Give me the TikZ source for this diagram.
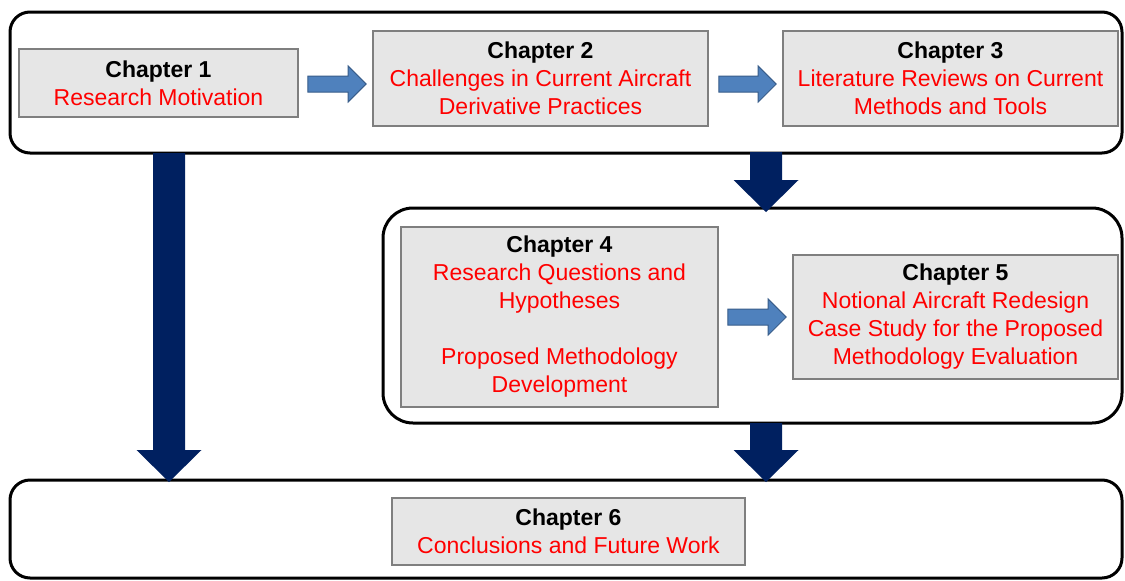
\documentclass[tikz,border=0pt]{standalone}
\usepackage{fontspec}
\setmainfont{Liberation Sans}
\usetikzlibrary{calc}

\definecolor{boxfill}{HTML}{E6E6E6}
\definecolor{boxedge}{HTML}{7F7F7F}
\definecolor{arrowblue}{HTML}{4F81BD}
\definecolor{arrowedge}{HTML}{385D8A}
\definecolor{navy}{HTML}{002060}
\definecolor{txtred}{HTML}{FF0000}

% horizontal block arrow from the x of #1 to the x of #2, at the height of #1
\newcommand\bluearrow[2]{%
  \path let \p1=(#1), \p2=(#2) in
    [fill=arrowblue, draw=arrowedge, line width=1pt, line join=miter]
    (\x1,\y1+8pt) -- (\x2-18pt,\y1+8pt) -- (\x2-18pt,\y1+18pt) -- (\x2,\y1)
    -- (\x2-18pt,\y1-18pt) -- (\x2-18pt,\y1-8pt) -- (\x1,\y1-8pt) -- cycle;}

% vertical block arrow from #1 down to the tip at #2
\newcommand\navyarrow[2]{%
  \path let \p1=(#1), \p2=(#2) in
    [fill=navy]
    (\x1-16pt,\y1) -- (\x1+16pt,\y1) -- (\x1+16pt,\y2+32pt) -- (\x1+32.5pt,\y2+32pt)
    -- (\x1,\y2) -- (\x1-32.5pt,\y2+32pt) -- (\x1-16pt,\y2+32pt) -- cycle;}

\tikzset{
  group/.style={draw=black, line width=3pt, fill=white, inner sep=0pt},
  chbox/.style={draw=boxedge, fill=boxfill, line width=1.6pt, inner sep=0pt,
    align=center, font=\fontsize{23}{28}\selectfont},
}
\newcommand\chtitle[1]{{\bfseries #1}}
\newcommand\red[1]{\textcolor{txtred}{#1}}

\begin{document}
\begin{tikzpicture}[x=1pt, y=-1pt]
\useasboundingbox (0,0) rectangle (1125,581);
\fill[white] (0,0) rectangle (1125,581);

% group frames
\draw[group, rounded corners=20pt] (10,12) rectangle (1122,153);
\draw[group, rounded corners=30pt] (383,208) rectangle (1122,423);
\draw[group, rounded corners=20pt] (10,480) rectangle (1122,578);

% chapter boxes
\node[chbox, minimum width=279pt, minimum height=68pt] (c1) at (158.5,83)
  {\chtitle{Chapter 1}\\ \red{Research Motivation}};
\node[chbox, minimum width=335pt, minimum height=95pt] (c2) at (540.5,78.5)
  {\chtitle{Chapter 2}\\ \red{Challenges in Current Aircraft}\\ \red{Derivative Practices}};
\node[chbox, minimum width=335pt, minimum height=95pt] (c3) at (950.5,78.5)
  {\chtitle{Chapter 3}\\ \red{Literature Reviews on Current}\\ \red{Methods and Tools}};
\node[chbox, minimum width=317pt, minimum height=180pt] (c4) at (559.5,317)
  {\chtitle{Chapter 4}\\ \red{Research Questions and}\\ \red{Hypotheses}\\[28pt] \red{Proposed Methodology}\\ \red{Development}};
\node[chbox, minimum width=325pt, minimum height=124pt] (c5) at (955.5,317)
  {\chtitle{Chapter 5}\\ \red{Notional Aircraft Redesign}\\ \red{Case Study for the Proposed}\\ \red{Methodology Evaluation}};
\node[chbox, minimum width=353pt, minimum height=67pt] (c6) at (568.5,531.5)
  {\chtitle{Chapter 6}\\ \red{Conclusions and Future Work}};

% arrows between chapters in a group
\coordinate (a1s) at ($(c1.east)+(9,1)$);
\coordinate (a1e) at ($(c2.west)+(-6,0)$);
\bluearrow{a1s}{a1e}
\coordinate (a2s) at ($(c2.east)+(10,5.5)$);
\coordinate (a2e) at ($(c3.west)+(-6,0)$);
\bluearrow{a2s}{a2e}
\coordinate (a3s) at ($(c4.east)+(9,0)$);
\coordinate (a3e) at ($(c5.west)+(-6,0)$);
\bluearrow{a3s}{a3e}

% arrows between groups
\coordinate (d1s) at (169,153);
\coordinate (d1e) at (169,482);
\navyarrow{d1s}{d1e}
\coordinate (d2s) at (766,152);
\coordinate (d2e) at (766,212);
\navyarrow{d2s}{d2e}
\coordinate (d3s) at (766,423);
\coordinate (d3e) at (766,482);
\navyarrow{d3s}{d3e}
\end{tikzpicture}
\end{document}
